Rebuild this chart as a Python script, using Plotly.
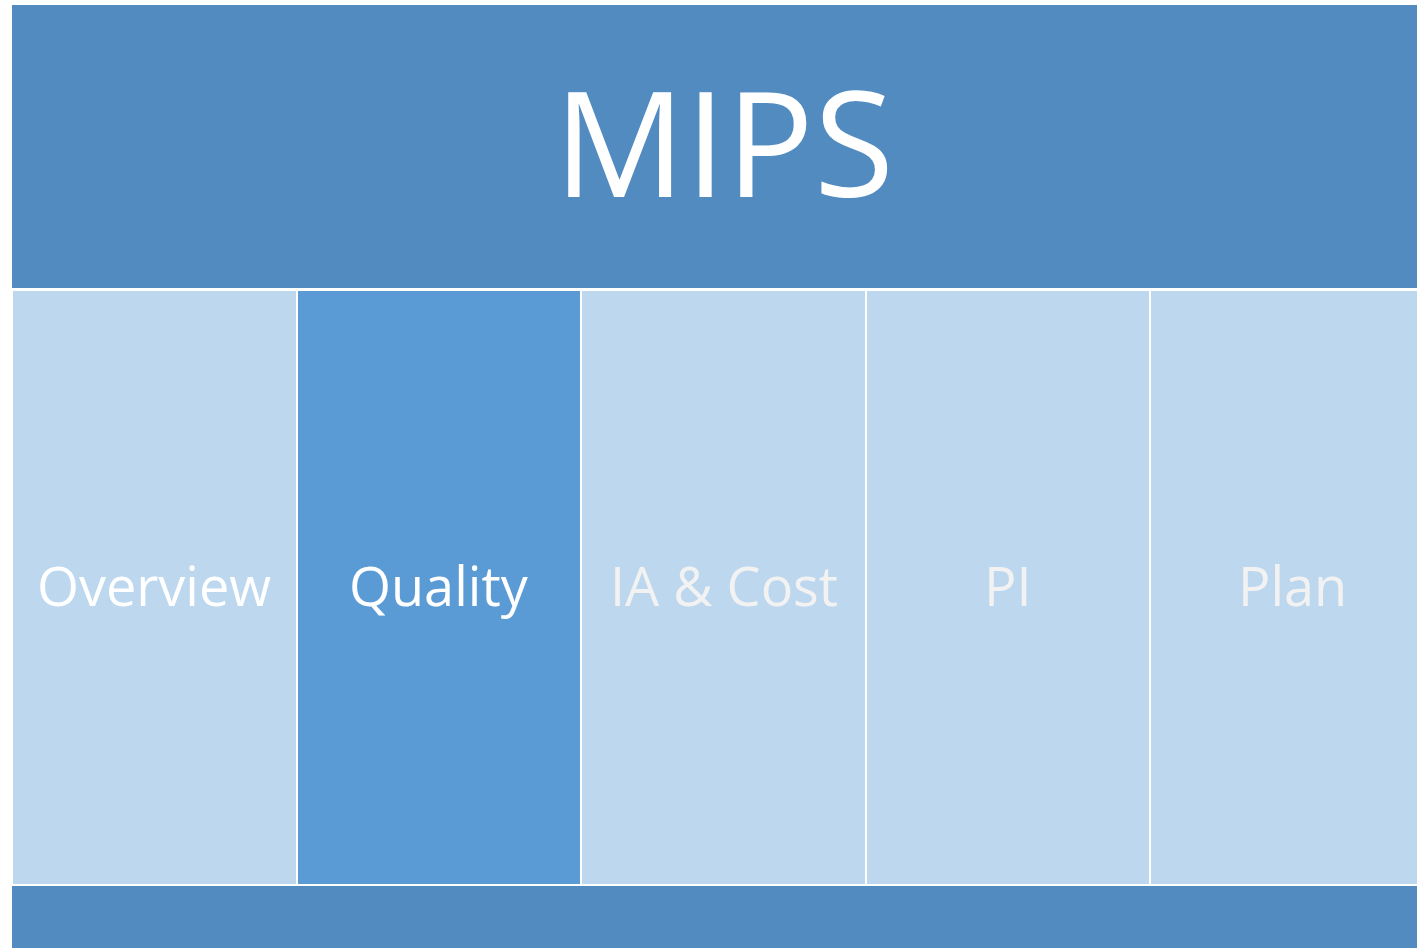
import plotly.graph_objects as go

title_text = "MIPS"
tabs = ["Overview", "Quality", "IA & Cost", "PI", "Plan"]
active_tab = "Quality"
tab_positions = [0.5, 1.5, 2.5, 3.5, 4.5]

BAND = "#528BC0"
LIGHT = "#BDD7EE"
ACTIVE = "#5B9BD5"
FONT = "Open Sans"

W, H = 1417, 948
ML, MT = 12, 5
tile_w_px = 284.6
plot_w = W - ML
plot_h = H - MT

fills = [ACTIVE if t == active_tab else LIGHT for t in tabs]
text_cols = ["#FFFFFF" if i <= tabs.index(active_tab) else "#F2F2F2" for i in range(len(tabs))]

fig = go.Figure()
fig.add_trace(go.Bar(
    x=tab_positions,
    y=[595] * len(tabs),
    base=[285] * len(tabs),
    width=1,
    marker=dict(color=fills, line=dict(color="#FFFFFF", width=2)),
    hoverinfo="skip",
    showlegend=False,
))

# banners
fig.add_shape(type="rect", xref="paper", yref="y", x0=0, x1=1.02, y0=0, y1=283,
              fillcolor=BAND, line=dict(width=0), layer="below")
fig.add_shape(type="rect", xref="paper", yref="y", x0=0, x1=1.02, y0=881, y1=plot_h + 5,
              fillcolor=BAND, line=dict(width=0), layer="below")

fig.add_annotation(x=2.5, y=135, xref="x", yref="y", text=title_text, showarrow=False,
                   font=dict(family=FONT, size=146, color="#FFFFFF"))
for xp, t, c in zip(tab_positions, tabs, text_cols):
    fig.add_annotation(x=xp, y=580, xref="x", yref="y", text=t, showarrow=False,
                       font=dict(family=FONT, size=54, color=c))

fig.update_layout(
    width=W, height=H,
    margin=dict(l=ML, r=0, t=MT, b=0),
    paper_bgcolor="#FFFFFF", plot_bgcolor="#FFFFFF",
    bargap=0,
    xaxis=dict(range=[0, plot_w / tile_w_px], visible=False, fixedrange=True),
    yaxis=dict(range=[plot_h, 0], visible=False, fixedrange=True),
)

fig.write_html("out.html", config={"displayModeBar": False},
               post_script="document.body.style.margin='0';document.body.style.overflow='hidden';")
